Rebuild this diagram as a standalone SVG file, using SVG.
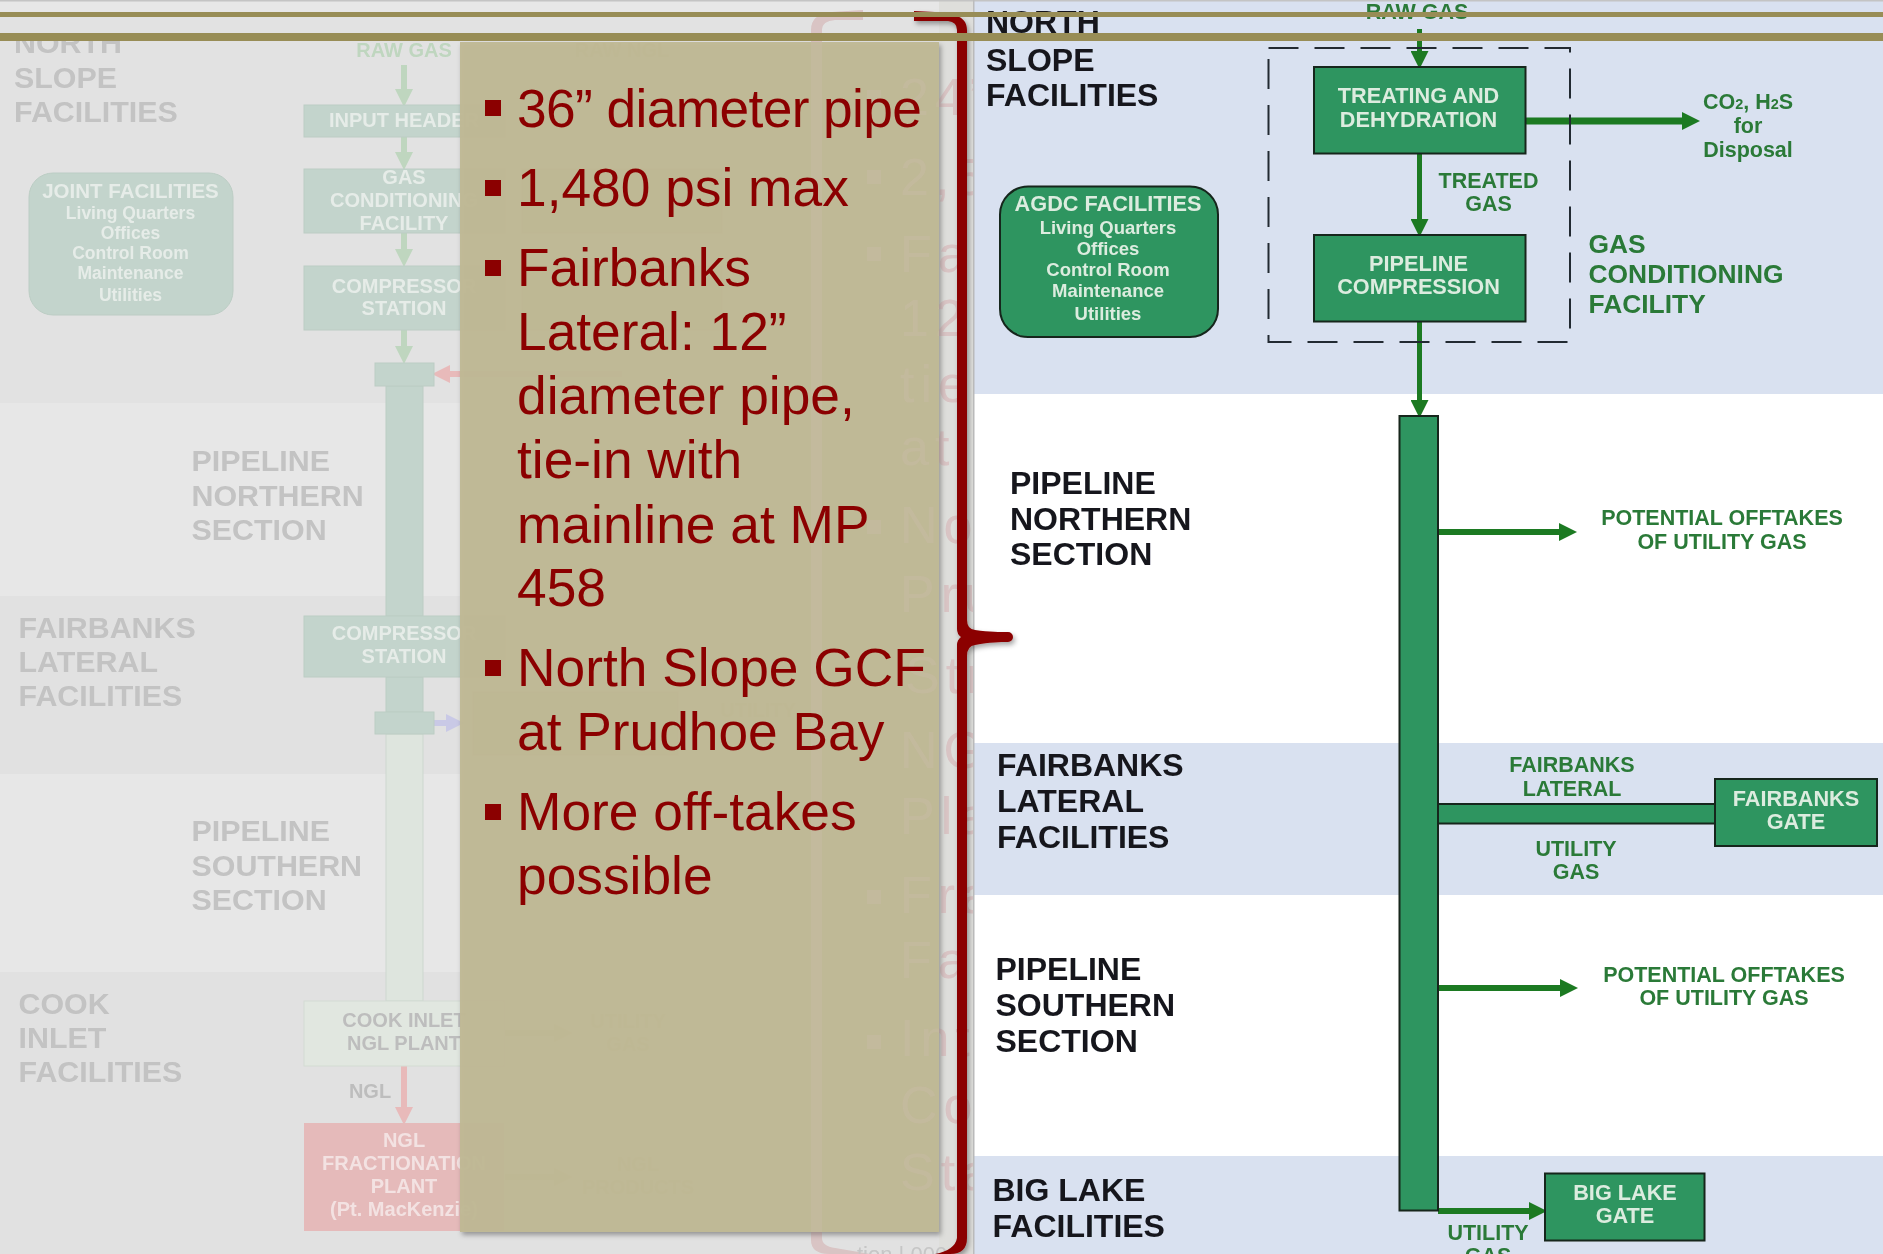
<svg xmlns="http://www.w3.org/2000/svg" xmlns:xlink="http://www.w3.org/1999/xlink" width="1883" height="1254" viewBox="0 0 1883 1254">
<style>
text{font-family:"Liberation Sans",Arial,sans-serif;font-weight:bold}
.m{text-anchor:middle}
.gl{font-size:30.400px;fill:#c3c3c3}
.gw{font-size:20px;fill:#e6ece8;text-anchor:middle}
.gd{font-size:20px;fill:#bdbdbd;text-anchor:middle}
.gg{font-size:20px;fill:#bfd6bf;text-anchor:middle}
.gp{font-size:20px;fill:#f3e2e2;text-anchor:middle}
.gs{font-size:17.500px;fill:#e6ece8;text-anchor:middle}
.gb{fill:#c3d4cc;stroke:#bccdc4;stroke-width:1}
.gx{fill:#d9c4c4;font-weight:normal;font-size:52px;letter-spacing:6px}
.gxs{fill:#d9c4c4}
.gf{fill:#c4bd9b;font-size:20px;text-anchor:middle}
.gq{fill:#c2bb98;stroke:#b9b28f;stroke-width:1}
.ln{fill:none;stroke-linecap:butt}
.gga{stroke:#bfd6bf;stroke-width:6;marker-end:url(#hg)}
.b{fill:#2f9560;stroke:#16261c;stroke-width:2}
.l{font-size:32px;fill:#16181f}
.w{font-size:21.700px;fill:#dcecdf;text-anchor:middle}
.ws{font-size:18.500px;fill:#dcecdf;text-anchor:middle}
.g{font-size:21.500px;fill:#2c7a38;text-anchor:middle}
.a{fill:none;stroke:#1c7a24;marker-end:url(#ha)}
.t{font-weight:normal;font-size:53.300px;fill:#8b0000}
.sq{fill:#8b0000}
</style>
<defs>
<marker id="ha" markerUnits="userSpaceOnUse" markerWidth="18" markerHeight="18" viewBox="0 0 18 18" refX="6" refY="9" orient="auto"><path d="M0,0 L18,9 L0,18 Z" fill="#1c7a24"/></marker>
<marker id="hg" markerUnits="userSpaceOnUse" markerWidth="18" markerHeight="18" viewBox="0 0 18 18" refX="6" refY="9" orient="auto"><path d="M0,0 L18,9 L0,18 Z" fill="#bfd6bf"/></marker>
<marker id="hp" markerUnits="userSpaceOnUse" markerWidth="18" markerHeight="18" viewBox="0 0 18 18" refX="6" refY="9" orient="auto"><path d="M0,0 L18,9 L0,18 Z" fill="#e8baba"/></marker>
<marker id="hb" markerUnits="userSpaceOnUse" markerWidth="18" markerHeight="18" viewBox="0 0 18 18" refX="6" refY="9" orient="auto"><path d="M0,0 L18,9 L0,18 Z" fill="#c9c9e6"/></marker>
<marker id="hf" markerUnits="userSpaceOnUse" markerWidth="18" markerHeight="18" viewBox="0 0 18 18" refX="6" refY="9" orient="auto"><path d="M0,0 L18,9 L0,18 Z" fill="#c4bd9b"/></marker>
<filter id="soft" x="-2%" y="-2%" width="104%" height="104%"><feGaussianBlur stdDeviation="0.55"/></filter>
<filter id="sh" x="-5%" y="-5%" width="115%" height="110%"><feDropShadow dx="2" dy="3" stdDeviation="2.5" flood-color="#000" flood-opacity="0.35"/></filter>
<clipPath id="cg"><rect x="800" y="0" width="173" height="1254"/></clipPath>
<g id="ghost-text" clip-path="url(#cg)" filter="url(#soft)">
<path class="gxs" d="M863,10 L832,12 Q811,14 811,30 V1240 Q811,1254 830,1254 L870,1254 L835,1248 Q822,1246 822,1238 V30 Q822,21 835,20 L863,20 Z"/>
<rect class="gxs" x="867" y="90" width="14" height="14"/>
<rect class="gxs" x="867" y="170" width="14" height="14"/>
<rect class="gxs" x="867" y="247" width="14" height="14"/>
<rect class="gxs" x="867" y="520" width="14" height="14"/>
<rect class="gxs" x="867" y="890" width="14" height="14"/>
<rect class="gxs" x="867" y="1035" width="14" height="14"/>
<text class="gx" x="900" y="115">24”</text>
<text class="gx" x="900" y="195">2,5</text>
<text class="gx" x="900" y="272">Fa</text>
<text class="gx" x="900" y="336">12</text>
<text class="gx" x="900" y="402">tie</text>
<text class="gx" x="900" y="465">at</text>
<text class="gx" x="900" y="543">No</text>
<text class="gx" x="900" y="612">Pru</text>
<text class="gx" x="905" y="693">Stra</text>
<text class="gx" x="900" y="768">NG</text>
<text class="gx" x="900" y="834">Pla</text>
<text class="gx" x="900" y="913">Fra</text>
<text class="gx" x="900" y="978">Fac</text>
<text class="gx" x="900" y="1056">Int</text>
<text class="gx" x="900" y="1123">Co</text>
<text class="gx" x="900" y="1190">Sta</text>
<text x="857" y="1262" style="font-size:22px;font-weight:normal;fill:#c6c6c6">tion | 000</text>
</g>
</defs>

<g id="ghost-bands">
<rect width="973" height="1254" fill="#e7e7e7"/>
<rect y="17" width="973" height="386" fill="#e2e2e2"/>
<rect y="596" width="973" height="178" fill="#e1e1e1"/>
<rect y="972" width="973" height="282" fill="#e1e1e1"/>
<rect x="939" width="34" height="1254" fill="#dededb"/>
</g>

<g id="right-bands">
<rect x="973" width="910" height="1254" fill="#fff"/>
<rect x="973" y="0" width="910" height="394" fill="#d9e1f0"/>
<rect x="973" y="743" width="910" height="152" fill="#d9e1f0"/>
<rect x="973" y="1156" width="910" height="98" fill="#d9e1f0"/>
<rect x="0" y="0" width="1883" height="1.5" fill="#c4c4c4"/>
<rect x="973" y="0" width="1.5" height="1254" fill="#bcbcbc"/>
</g>

<g id="ghost-diagram" filter="url(#soft)">
<g id="ghost-connectors">
<path class="ln gga" d="M404,65 V95"/>
<path class="ln gga" d="M404,137 V158"/>
<path class="ln gga" d="M404,233 V255"/>
<path class="ln gga" d="M404,330 V352"/>
<path class="ln" stroke="#e8baba" stroke-width="6" marker-end="url(#hp)" d="M622,374 H444"/>
<path class="ln" stroke="#c9c9e6" stroke-width="6" marker-end="url(#hb)" d="M434,723 H452"/>
<path class="ln" stroke="#e8baba" stroke-width="6" marker-end="url(#hp)" d="M404,1066 V1113"/>
<path class="ln" stroke="#c4bd9b" stroke-width="6" marker-end="url(#hf)" d="M505,1033 H560"/>
<path class="ln" stroke="#c4bd9b" stroke-width="6" marker-end="url(#hf)" d="M505,1177 H560"/>
</g>
<g id="ghost-north-label"><text class="gl" x="14" y="53">NORTH</text><text class="gl" x="14" y="88">SLOPE</text><text class="gl" x="14" y="122">FACILITIES</text></g>
<g id="ghost-pn-label"><text class="gl" x="191.500" y="471">PIPELINE</text><text class="gl" x="191.500" y="506">NORTHERN</text><text class="gl" x="191.500" y="540">SECTION</text></g>
<g id="ghost-fb-label"><text class="gl" x="18.500" y="638">FAIRBANKS</text><text class="gl" x="18.500" y="672">LATERAL</text><text class="gl" x="18.500" y="706">FACILITIES</text></g>
<g id="ghost-ps-label"><text class="gl" x="191.500" y="841">PIPELINE</text><text class="gl" x="191.500" y="876">SOUTHERN</text><text class="gl" x="191.500" y="910">SECTION</text></g>
<g id="ghost-ci-label"><text class="gl" x="18.500" y="1014">COOK</text><text class="gl" x="18.500" y="1048">INLET</text><text class="gl" x="18.500" y="1082">FACILITIES</text></g>
<text class="gg" x="404" y="57">RAW GAS</text>
<text class="gf" x="622" y="57">RAW NGL</text>
<g id="ghost-input"><rect class="gb" x="304" y="105" width="201" height="32"/><text class="gw" x="404" y="127">INPUT HEADER</text></g>
<g id="ghost-gcf"><rect class="gb" x="304" y="169" width="201" height="64"/><text class="gw" x="404" y="184">GAS</text><text class="gw" x="404" y="207">CONDITIONING</text><text class="gw" x="404" y="230">FACILITY</text></g>
<g id="ghost-comp1"><rect class="gb" x="304" y="266" width="201" height="64"/><text class="gw" x="404" y="293">COMPRESSOR</text><text class="gw" x="404" y="315">STATION</text></g>
<g id="ghost-joint"><rect class="gb" x="29" y="173" width="204" height="142" rx="24"/>
<text class="gw" x="130.500" y="198" style="font-size:20.500px">JOINT FACILITIES</text>
<text class="gs" x="130.500" y="219">Living Quarters</text><text class="gs" x="130.500" y="239">Offices</text><text class="gs" x="130.500" y="259">Control Room</text><text class="gs" x="130.500" y="279">Maintenance</text><text class="gs" x="130.500" y="301">Utilities</text></g>
<g id="ghost-pipe">
<rect class="gb" x="386" y="386" width="37" height="230"/>
<rect class="gb" x="375" y="363" width="59" height="23"/>
<rect class="gb" x="386" y="677" width="37" height="35"/>
<rect x="386" y="734" width="37" height="267" fill="#dee5de" stroke="#cdd7cf"/>
<rect class="gb" x="375" y="712" width="59" height="22"/>
</g>
<g id="ghost-comp2"><rect class="gb" x="304" y="616" width="201" height="61"/><text class="gw" x="404" y="640">COMPRESSOR</text><text class="gw" x="404" y="663">STATION</text></g>
<g id="ghost-cook"><rect x="304" y="1001" width="200" height="65" fill="#e1e7e0" stroke="#d3dcd3"/><text class="gd" x="404" y="1027">COOK INLET</text><text class="gd" x="404" y="1050">NGL PLANT</text></g>
<text class="gd" x="370" y="1098">NGL</text>
<g id="ghost-frac"><rect x="304" y="1123" width="200" height="108" fill="#e5baba"/><text class="gp" x="404" y="1147">NGL</text><text class="gp" x="404" y="1170">FRACTIONATION</text><text class="gp" x="404" y="1193">PLANT</text><text class="gp" x="404" y="1216">(Pt. MacKenzie)</text></g>
<g id="ghost-hidden">
<rect class="gq" x="522" y="169" width="200" height="64"/>
<rect class="gq" x="522" y="266" width="200" height="64"/>
<rect class="gq" x="473" y="692" width="205" height="63"/>
<text class="gf" x="622" y="212">NGL PUMPS</text>
<text class="gf" x="622" y="300">NGL PUMPS</text>
<text class="gf" x="575" y="717">FAIRBANKS</text>
<text class="gf" x="758" y="717">UTILITY</text>
<text class="gf" x="628" y="1028">UTILITY</text>
<text class="gf" x="628" y="1051">GAS</text>
<text class="gf" x="638" y="1171">NGL</text>
<text class="gf" x="638" y="1194">PRODUCTS</text>
</g>
</g>

<use href="#ghost-text"/>

<g id="right-diagram" filter="url(#soft)">
<g id="connectors">
<path class="a" stroke-width="5" d="M1419.500,29 V57"/>
<path class="a" stroke-width="7" d="M1526,121 H1688"/>
<path class="a" stroke-width="5" d="M1419.500,153 V225"/>
<path class="a" stroke-width="5" d="M1419.500,322 V406"/>
<path class="a" stroke-width="6" d="M1438,532 H1565"/>
<path class="a" stroke-width="6" d="M1438,988 H1566"/>
<path class="a" stroke-width="6" d="M1438,1211 H1535"/>
</g>
<rect id="gcf-boundary" x="1268.500" y="48" width="301.500" height="294" fill="none" stroke="#232a33" stroke-width="2" stroke-dasharray="30 16"/>
<g id="north-label"><text class="l" x="986" y="33">NORTH</text><text class="l" x="986" y="70.500">SLOPE</text><text class="l" x="986" y="106">FACILITIES</text></g>
<g id="pn-label"><text class="l" x="1010" y="494">PIPELINE</text><text class="l" x="1010" y="529.500">NORTHERN</text><text class="l" x="1010" y="565">SECTION</text></g>
<g id="fb-label"><text class="l" x="997" y="776">FAIRBANKS</text><text class="l" x="997" y="812">LATERAL</text><text class="l" x="997" y="848">FACILITIES</text></g>
<g id="ps-label"><text class="l" x="995.500" y="980">PIPELINE</text><text class="l" x="995.500" y="1016">SOUTHERN</text><text class="l" x="995.500" y="1051.500">SECTION</text></g>
<g id="bl-label"><text class="l" x="992.500" y="1201">BIG LAKE</text><text class="l" x="992.500" y="1237">FACILITIES</text></g>
<text class="g" x="1417" y="19">RAW GAS</text>
<g id="treating"><rect class="b" x="1314" y="67" width="211.500" height="86.500"/><text class="w" x="1418.500" y="103">TREATING AND</text><text class="w" x="1418.500" y="127">DEHYDRATION</text></g>
<g id="compression"><rect class="b" x="1314" y="235" width="211.500" height="86.500"/><text class="w" x="1418.500" y="270.500">PIPELINE</text><text class="w" x="1418.500" y="294">COMPRESSION</text></g>
<g id="agdc"><rect class="b" x="1000" y="186.500" width="218" height="150.500" rx="28"/>
<text class="w" x="1108" y="211">AGDC FACILITIES</text>
<text class="ws" x="1108" y="233.500">Living Quarters</text><text class="ws" x="1108" y="255">Offices</text><text class="ws" x="1108" y="276">Control Room</text><text class="ws" x="1108" y="297">Maintenance</text><text class="ws" x="1108" y="320">Utilities</text></g>
<g id="main-pipe"><rect class="b" x="1399.500" y="416" width="38.500" height="794.500"/></g>
<g id="lateral"><rect class="b" x="1438" y="804" width="277" height="19.500"/></g>
<g id="fairbanks-gate"><rect class="b" x="1715" y="779" width="162" height="67"/><text class="w" x="1796" y="806">FAIRBANKS</text><text class="w" x="1796" y="829">GATE</text></g>
<g id="big-lake-gate"><rect class="b" x="1545" y="1173.500" width="159.500" height="67"/><text class="w" x="1625" y="1200">BIG LAKE</text><text class="w" x="1625" y="1223">GATE</text></g>
<text class="g" x="1488.500" y="188">TREATED</text><text class="g" x="1488.500" y="211">GAS</text>
<text class="g" x="1748" y="108.500">CO<tspan font-size="14.500">2</tspan>, H<tspan font-size="14.500">2</tspan>S</text><text class="g" x="1748" y="132.500">for</text><text class="g" x="1748" y="157">Disposal</text>
<g id="gcf-label"><text x="1588.500" y="253" style="font-size:26.400px;fill:#2c7a38">GAS</text><text x="1588.500" y="283" style="font-size:26.400px;fill:#2c7a38">CONDITIONING</text><text x="1588.500" y="313" style="font-size:26.400px;fill:#2c7a38">FACILITY</text></g>
<text class="g" x="1722" y="525">POTENTIAL OFFTAKES</text><text class="g" x="1722" y="549">OF UTILITY GAS</text>
<text class="g" x="1724" y="981.500">POTENTIAL OFFTAKES</text><text class="g" x="1724" y="1004.500">OF UTILITY GAS</text>
<text class="g" x="1572" y="772">FAIRBANKS</text><text class="g" x="1572" y="796">LATERAL</text>
<text class="g" x="1576" y="855.500">UTILITY</text><text class="g" x="1576" y="879">GAS</text>
<text class="g" x="1488" y="1240">UTILITY</text><text class="g" x="1488" y="1263">GAS</text>
</g>

<g id="panel">
<rect x="460" y="42" width="479" height="1190" fill="#bfb895" fill-opacity="0.96" filter="url(#sh)"/>
<use href="#ghost-text" opacity="0.18"/>
<rect class="sq" x="485" y="100" width="16" height="16"/>
<rect class="sq" x="485" y="180" width="16" height="16"/>
<rect class="sq" x="485" y="260" width="16" height="16"/>
<rect class="sq" x="485" y="660" width="16" height="16"/>
<rect class="sq" x="485" y="804" width="16" height="16"/>
<text class="t" x="517" y="127" textLength="405" lengthAdjust="spacing">36” diameter pipe</text>
<text class="t" x="517" y="206">1,480 psi max</text>
<text class="t" x="517" y="286">Fairbanks</text>
<text class="t" x="517" y="350">Lateral: 12”</text>
<text class="t" x="517" y="414">diameter pipe,</text>
<text class="t" x="517" y="478">tie-in with</text>
<text class="t" x="517" y="542.500">mainline at MP</text>
<text class="t" x="517" y="606">458</text>
<text class="t" x="517" y="686">North Slope GCF</text>
<text class="t" x="517" y="750">at Prudhoe Bay</text>
<text class="t" x="517" y="830">More off-takes</text>
<text class="t" x="517" y="894">possible</text>
</g>

<path id="brace" filter="url(#sh)" fill="#8b0000" d="M914,11 L935,12 C950,14 967,14 967,30 V620 Q967,629 975,630 C990,632 1000,632 1008,632 A5,5 0 0 1 1008,642 C1000,642 990,642 975,645 Q967,646 967,656 V1238 Q967,1254 950,1254 L935,1254 Q955,1250 957,1238 V645 Q957,640 961,637 Q957,634 957,629 V30 Q957,22 948,21 L914,21 Z"/>

<g id="title-rules">
<rect y="12" width="1883" height="5" fill="#988d56"/>
<rect y="33" width="1883" height="8" fill="#988d56"/>
</g>
</svg>
